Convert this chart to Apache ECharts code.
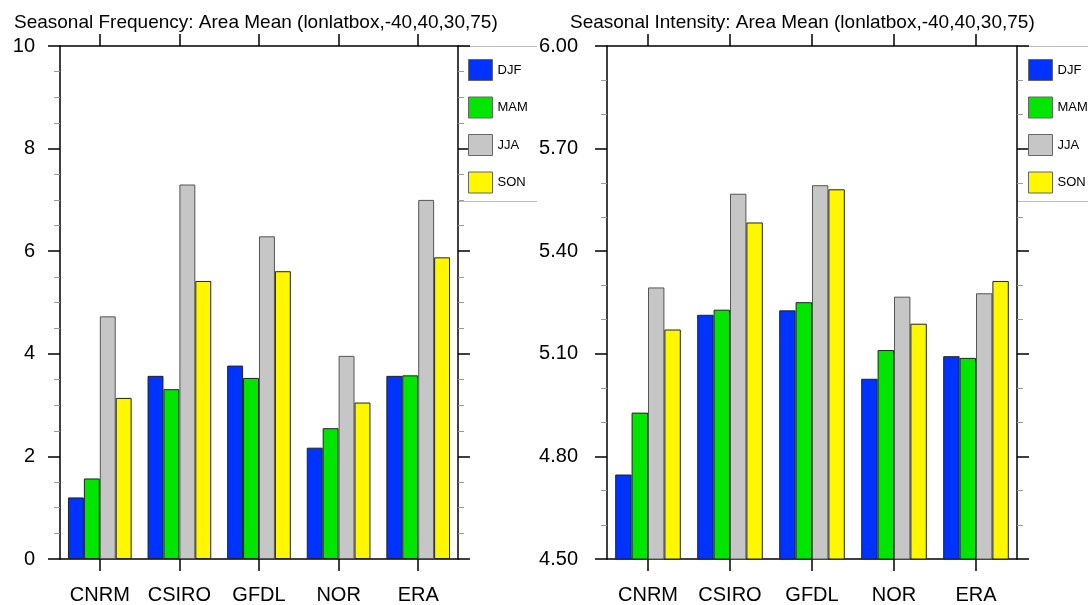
<!DOCTYPE html>
<html>
<head>
<meta charset="utf-8">
<script src="https://cdn.jsdelivr.net/npm/echarts@6/dist/echarts.min.js"></script>
<style>
  html, body { margin: 0; padding: 0; background: #fff; }
  #main { width: 1088px; height: 605px; }
</style>
</head>
<body>
<div id="main"></div>
<script>
const models = ['CNRM', 'CSIRO', 'GFDL', 'NOR', 'ERA'];
const seasons = ['DJF', 'MAM', 'JJA', 'SON'];

// seasonal frequency (left panel)
const freqDJF = [1.20, 3.57, 3.77, 2.17, 3.57];
const freqMAM = [1.57, 3.31, 3.53, 2.55, 3.58];
const freqJJA = [4.73, 7.30, 6.29, 3.96, 7.00];
const freqSON = [3.14, 5.42, 5.61, 3.05, 5.88];

// seasonal intensity (right panel)
const intDJF = [4.747, 5.214, 5.227, 5.027, 5.093];
const intMAM = [4.928, 5.229, 5.251, 5.111, 5.088];
const intJJA = [5.294, 5.568, 5.593, 5.267, 5.277];
const intSON = [5.171, 5.484, 5.581, 5.188, 5.313];

const freqTicks = [0, 2, 4, 6, 8, 10];
const intTicks = [4.50, 4.80, 5.10, 5.40, 5.70, 6.00];

const colors = {
  DJF: '#0033ff',
  MAM: '#00e600',
  JJA: '#c6c6c6',
  SON: '#fff700'
};

const font = 'Liberation Sans, Arial, Helvetica, sans-serif';
const black = '#000';

function catAxis(gridIndex, pos) {
  return {
    type: 'category',
    gridIndex: gridIndex,
    position: pos,
    data: models,
    axisLine: { onZero: false, lineStyle: { color: black, width: 1.5 } },
    axisTick: { show: true, interval: 0, alignWithLabel: true, length: 12, lineStyle: { color: black, width: 1.5 } },
    axisLabel: {
      show: pos === 'bottom',
      interval: 0,
      margin: 26,
      fontSize: 20,
      color: black,
      fontFamily: font
    },
    splitLine: { show: false }
  };
}

function valueAxis(gridIndex, ticks, pos, minorSplit, showLabel, digits, margin) {
  return {
    type: 'value',
    gridIndex: gridIndex,
    position: pos,
    min: ticks[0],
    max: ticks[ticks.length - 1],
    interval: +(ticks[1] - ticks[0]).toFixed(2),
    axisLine: { show: true, onZero: false, lineStyle: { color: black, width: 1.5 } },
    axisTick: { show: true, length: 12, lineStyle: { color: black, width: 1.5 } },
    minorTick: { show: true, splitNumber: minorSplit, length: 6, lineStyle: { color: '#999', width: 1 } },
    axisLabel: {
      show: showLabel,
      margin: margin,
      fontSize: 20,
      color: black,
      fontFamily: font,
      formatter: function (v) { return v.toFixed(digits); }
    },
    splitLine: { show: false }
  };
}

function barSeries(name, data, axisIdx) {
  return {
    name: name,
    type: 'bar',
    xAxisIndex: axisIdx,
    yAxisIndex: axisIdx,
    data: data,
    barGap: '0%',
    barCategoryGap: '20%',
    clip: true,
    itemStyle: {
      color: colors[name],
      borderColor: name === 'JJA' ? '#555' : '#222',
      borderWidth: 1
    }
  };
}

function legendAt(left) {
  return {
    orient: 'vertical',
    left: left,
    top: 59,
    padding: 0,
    itemWidth: 24,
    itemHeight: 21,
    itemGap: 15.5,
    icon: 'rect',
    selectedMode: false,
    data: seasons,
    itemStyle: { borderColor: '#666', borderWidth: 1 },
    textStyle: { fontSize: 13, color: black, fontFamily: font }
  };
}

function legendFrame(x1, x2) {
  const style = { stroke: '#bbb', lineWidth: 1 };
  return [
    { type: 'line', z: -1, shape: { x1: x1, y1: 46.5, x2: x2, y2: 46.5 }, style: style },
    { type: 'line', z: -1, shape: { x1: x1, y1: 201.5, x2: x2, y2: 201.5 }, style: style }
  ];
}

const chart = echarts.init(document.getElementById('main'));
const option = {
  animation: false,
  backgroundColor: '#fff',
  title: [
    {
      text: 'Seasonal Frequency: Area Mean (lonlatbox,-40,40,30,75)',
      left: 14,
      top: 13,
      padding: 0,
      textStyle: { fontSize: 19, fontWeight: 'normal', color: black, fontFamily: font }
    },
    {
      text: 'Seasonal Intensity: Area Mean (lonlatbox,-40,40,30,75)',
      left: 570,
      top: 13,
      padding: 0,
      textStyle: { fontSize: 19, fontWeight: 'normal', color: black, fontFamily: font }
    }
  ],
  legend: [legendAt(468), legendAt(1028)],
  graphic: legendFrame(458, 537).concat(legendFrame(1017, 1088)),
  grid: [
    { left: 60, top: 46, width: 398, height: 514 },
    { left: 607, top: 46, width: 410, height: 514 }
  ],
  xAxis: [catAxis(0, 'bottom'), catAxis(1, 'bottom'), catAxis(0, 'top'), catAxis(1, 'top')],
  yAxis: [
    valueAxis(0, freqTicks, 'left', 4, true, 0, 25),
    valueAxis(1, intTicks, 'left', 3, true, 2, 29),
    valueAxis(0, freqTicks, 'right', 4, false, 0, 25),
    valueAxis(1, intTicks, 'right', 3, false, 2, 29)
  ],
  series: [
    barSeries('DJF', freqDJF, 0),
    barSeries('MAM', freqMAM, 0),
    barSeries('JJA', freqJJA, 0),
    barSeries('SON', freqSON, 0),
    barSeries('DJF', intDJF, 1),
    barSeries('MAM', intMAM, 1),
    barSeries('JJA', intJJA, 1),
    barSeries('SON', intSON, 1)
  ]
};
chart.setOption(option);
</script>
</body>
</html>
